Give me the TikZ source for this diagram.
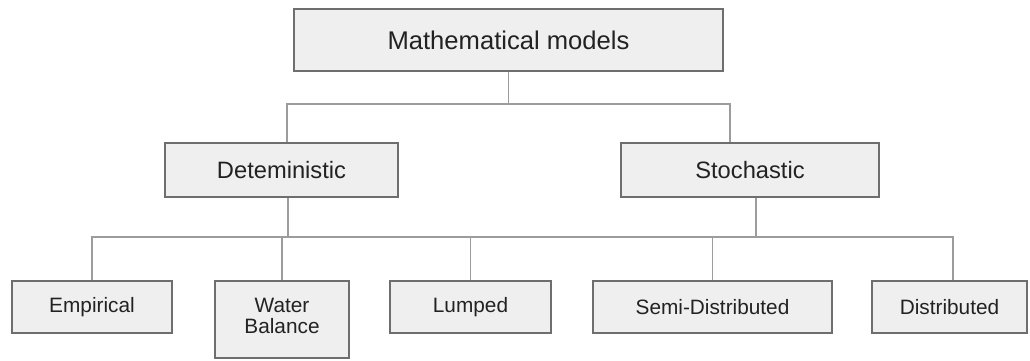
\documentclass[tikz,border=0pt]{standalone}
\usepackage{fontspec}
\setmainfont{Liberation Sans}
\usetikzlibrary{shadows}
\definecolor{boxfill}{HTML}{EFEFEF}
\definecolor{boxline}{HTML}{6E6E6E}
\definecolor{connline}{HTML}{9C9C9C}
\definecolor{txt}{HTML}{222222}
\tikzset{
  box/.style={draw=boxline, fill=boxfill, line width=1.1pt, inner sep=0pt, text=txt,
    drop shadow={shadow xshift=1pt, shadow yshift=-1.2pt, fill=black, opacity=0.25}},
  lbl/.style={inner sep=0pt, text=txt, align=center},
  conn/.style={draw=connline, line width=1.3pt},
}
\begin{document}
\begin{tikzpicture}[x=1pt,y=-1pt]
\useasboundingbox[fill=white] (0,0) rectangle (1030,360);
% level 0
\node[box, minimum width=429pt, minimum height=62pt, font=\fontsize{25.6}{29}\selectfont] (top) at (508.5,40) {Mathematical models};
% level 1
\node[box, minimum width=233pt, minimum height=54pt, font=\fontsize{23.7}{27}\selectfont] (det) at (281.5,170) {Deteministic};
\node[box, minimum width=258pt, minimum height=54pt, font=\fontsize{23.7}{27}\selectfont] (sto) at (750,170) {Stochastic};
% level 2
\node[box, minimum width=160pt, minimum height=52pt, font=\fontsize{20.8}{24}\selectfont] (emp) at (92,307) {Empirical};
\node[box, minimum width=134pt, minimum height=77pt] (wb) at (282,319.5) {};
\node[lbl, font=\fontsize{20.8}{21}\selectfont] (wbt) at (282,316) {Water\\Balance};
\node[box, minimum width=161pt, minimum height=52pt, font=\fontsize{20.8}{24}\selectfont] (lum) at (470.5,307) {Lumped};
\node[box, minimum width=239pt, minimum height=52pt, font=\fontsize{20.8}{24}\selectfont] (semi) at (712.5,307) {Semi-Distributed};
\node[box, minimum width=155pt, minimum height=52pt, font=\fontsize{20.8}{24}\selectfont] (dist) at (949.5,307) {Distributed};
% connectors level 0 -> 1
\coordinate (j1) at (508.5,104);
\coordinate (j1l) at (287,104);
\coordinate (j1r) at (730,104);
\draw[conn] (top.south) -- (j1);
\draw[conn] ([xshift=5.5pt]det.north) -- (j1l) -- (j1r) -- ([xshift=-20pt]sto.north);
% connectors level 1 -> 2
\coordinate (j2l) at (92,237);
\coordinate (j2r) at (953,237);
\coordinate (j2d) at (288,237);
\coordinate (j2s) at (756,237);
\draw[conn] ([xshift=6.5pt]det.south) -- (j2d);
\draw[conn] ([xshift=6pt]sto.south) -- (j2s);
\draw[conn] (emp.north) -- (j2l) -- (j2r) -- ([xshift=3.5pt]dist.north);
\draw[conn] (wb.north) -- (wb.north |- j2l);
\draw[conn] (lum.north) -- (lum.north |- j2l);
\draw[conn] (semi.north) -- (semi.north |- j2l);
\end{tikzpicture}
\end{document}
